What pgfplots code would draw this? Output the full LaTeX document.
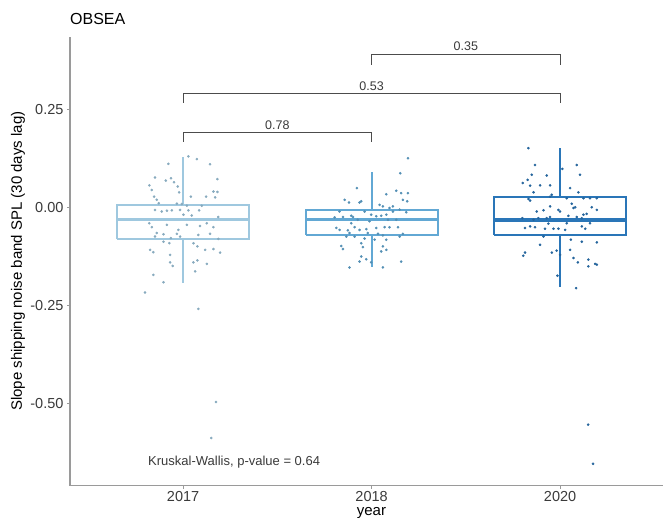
\documentclass[border=0pt]{standalone}
\usepackage{fontspec}
\setmainfont{Liberation Sans}
\usepackage{pgfplots}
\pgfplotsset{compat=1.18}
\definecolor{colA}{HTML}{9FC8DF}
\definecolor{colB}{HTML}{62A8D4}
\definecolor{colC}{HTML}{2A76B8}
\definecolor{axgray}{HTML}{9A9A9A}
\definecolor{txt}{HTML}{3A3A3A}
\begin{document}
\begin{tikzpicture}
\useasboundingbox (0pt,0pt) rectangle (663pt,518pt);
\begin{axis}[
  at={(70pt,32.3pt)}, anchor=south west,
  scale only axis, width=593pt, height=449pt,
  xmin=0.4, xmax=3.546, ymin=-0.711, ymax=0.437,
  axis x line*=bottom, axis y line*=left,
  axis line style={draw=axgray, line width=1.3pt, -},
  xtick={1,2,3}, xticklabels={2017,2018,2020},
  ytick={-0.5,-0.25,0,0.25}, yticklabels={-0.50,-0.25,0.00,0.25},
  tick style={draw=axgray, line width=0.8pt}, tick align=outside, major tick length=3pt,
  ticklabel style={font=\fontsize{14.5}{14.5}\selectfont, text=txt},
  xticklabel style={anchor=base, yshift=-13pt},
  yticklabel style={anchor=east},
  xlabel={year},
  xlabel style={at={(axis description cs:0.5084,0)}, anchor=base, yshift=-30pt, font=\fontsize{15}{15}\selectfont, text=black, inner sep=0pt},
  ylabel={Slope shipping noise band SPL (30 days lag)},
  ylabel style={at={(axis description cs:-0.0877,0.5)}, anchor=center, font=\fontsize{15}{15}\selectfont, text=black, inner sep=0pt},
  title={OBSEA},
  title style={at={(axis description cs:0,1)}, anchor=base west, yshift=6pt, inner sep=0pt, font=\fontsize{16}{16}\selectfont},
  clip=false,
  unbounded coords=jump,
  boxline/.style={line width=2pt, line join=miter, mark=none},
]
% boxes: outline, whiskers (jump at nan), then median
\addplot[boxline, draw=colA] coordinates {(0.65,-0.081)(1.35,-0.081)(1.35,0.007)(0.65,0.007)(0.65,-0.081)};
\addplot[boxline, draw=colA] coordinates {(1,0.007)(1,0.130)(1,nan)(1,-0.081)(1,-0.192)};
\addplot[boxline, draw=colA, line width=3pt] coordinates {(0.65,-0.030)(1.35,-0.030)};
\addplot[boxline, draw=colB] coordinates {(1.65,-0.071)(2.35,-0.071)(2.35,-0.006)(1.65,-0.006)(1.65,-0.071)};
\addplot[boxline, draw=colB] coordinates {(2,-0.006)(2,0.090)(2,nan)(2,-0.071)(2,-0.153)};
\addplot[boxline, draw=colB, line width=3pt] coordinates {(1.65,-0.030)(2.35,-0.030)};
\addplot[boxline, draw=colC] coordinates {(2.65,-0.070)(3.35,-0.070)(3.35,0.026)(2.65,0.026)(2.65,-0.070)};
\addplot[boxline, draw=colC] coordinates {(3,0.026)(3,0.152)(3,nan)(3,-0.070)(3,-0.202)};
\addplot[boxline, draw=colC, line width=3.5pt] coordinates {(2.65,-0.032)(3.35,-0.032)};
% jittered points 2017
\addplot[only marks, color=colA!85!black, mark=*, mark size=1.1pt, mark options={solid, fill=colA!85!black, draw=colA!85!black}] coordinates {
(1.028,0.131)(1.073,0.124)(0.922,0.112)(1.143,0.111)(1.182,0.073)(0.851,0.077)(0.908,0.069)(0.936,0.075)(0.952,0.065)(0.821,0.057)(0.834,0.045)(0.972,0.054)(0.979,0.039)(1.161,0.041)(1.182,0.040)(0.846,0.028)(0.860,0.020)(1.041,0.028)(1.122,0.028)(1.170,0.026)(0.871,0.011)(0.967,0.010)(0.993,0.009)(1.099,0.005)(1.020,0.005)(0.851,-0.006)(0.887,-0.010)(0.914,-0.008)(0.940,-0.007)(0.984,-0.006)(1.028,-0.007)(1.085,-0.007)(1.002,-0.018)(1.046,-0.020)(1.187,-0.024)(0.821,-0.040)(0.834,-0.050)(0.914,-0.044)(0.975,-0.057)(1.020,-0.044)(1.090,-0.047)(1.126,-0.040)(1.161,-0.050)(0.860,-0.065)(0.896,-0.068)(0.967,-0.067)(1.081,-0.070)(1.143,-0.067)(0.851,-0.074)(0.935,-0.078)(0.984,-0.074)(1.187,-0.080)(0.896,-0.087)(0.927,-0.091)(1.055,-0.091)(1.076,-0.099)(0.825,-0.108)(0.842,-0.114)(1.117,-0.108)(1.161,-0.106)(1.196,-0.115)(0.931,-0.121)(1.076,-0.135)(1.055,-0.140)(0.931,-0.140)(0.945,-0.149)(1.126,-0.144)(0.842,-0.172)(0.896,-0.191)(1.064,-0.163)(0.798,-0.217)(1.081,-0.259)(1.175,-0.497)(1.149,-0.589)
};
% jittered points 2018
\addplot[only marks, color=colB!85!black, mark=*, mark size=1.1pt, mark options={solid, fill=colB!85!black, draw=colB!85!black}] coordinates {
(2.193,0.126)(2.152,0.088)(1.922,0.050)(2.078,0.034)(2.131,0.043)(2.157,0.037)(2.193,0.037)(2.166,0.020)(2.189,0.016)(1.857,0.020)(1.880,0.013)(1.936,0.013)(1.945,0.016)(2.042,0.007)(2.060,0.003)(2.095,-0.001)(2.113,0.003)(2.149,-0.005)(2.184,-0.012)(1.963,-0.010)(1.998,-0.018)(2.025,-0.022)(2.051,-0.021)(2.078,-0.018)(1.848,-0.024)(1.901,-0.024)(1.804,-0.025)(1.927,-0.031)(2.131,-0.031)(1.892,-0.040)(1.910,-0.050)(1.813,-0.052)(1.830,-0.057)(1.936,-0.057)(2.025,-0.052)(2.069,-0.050)(2.095,-0.050)(2.140,-0.050)(1.874,-0.058)(1.883,-0.065)(1.980,-0.065)(2.034,-0.067)(2.060,-0.071)(1.910,-0.074)(1.963,-0.079)(2.078,-0.082)(2.166,-0.067)(1.945,-0.091)(1.954,-0.101)(1.839,-0.098)(1.848,-0.106)(2.060,-0.099)(2.078,-0.108)(2.051,-0.112)(1.945,-0.125)(1.972,-0.132)(1.936,-0.138)(1.998,-0.140)(2.157,-0.138)(1.883,-0.153)(2.060,-0.153)(1.892,-0.021)(1.989,-0.035)(2.087,-0.031)(2.149,-0.074)(1.866,-0.074)(2.016,-0.082)(2.113,-0.010)(1.830,-0.010)(1.972,-0.055)
};
% jittered points 2020
\addplot[only marks, color=colC!85!black, mark=*, mark size=1.1pt, mark options={solid, fill=colC!85!black, draw=colC!85!black}] coordinates {
(2.832,0.152)(2.867,0.109)(3.088,0.109)(3.106,0.084)(2.850,0.084)(2.929,0.082)(2.828,0.071)(2.802,0.063)(2.841,0.056)(2.894,0.057)(2.947,0.057)(3.012,0.099)(3.053,0.050)(3.097,0.039)(2.859,0.039)(2.956,0.033)(2.832,0.022)(2.841,0.018)(2.947,0.028)(3.035,0.024)(3.124,0.024)(3.159,0.024)(3.195,0.024)(3.062,0.010)(3.080,0.001)(2.876,-0.010)(2.912,-0.007)(2.991,-0.006)(3.000,-0.010)(3.071,-0.001)(3.168,0.001)(3.195,-0.006)(2.885,-0.027)(2.929,-0.027)(2.947,-0.024)(3.044,-0.021)(3.088,-0.024)(3.124,-0.018)(3.141,-0.016)(3.115,-0.027)(2.814,-0.052)(2.841,-0.048)(2.867,-0.050)(2.920,-0.054)(2.965,-0.054)(2.991,-0.054)(3.027,-0.057)(3.133,-0.054)(2.938,-0.041)(2.894,-0.095)(2.956,-0.115)(2.982,-0.110)(3.000,-0.121)(3.057,-0.082)(3.115,-0.087)(3.195,-0.089)(2.814,-0.115)(2.805,-0.123)(3.071,-0.129)(3.094,-0.140)(3.150,-0.133)(3.150,-0.150)(3.186,-0.144)(3.195,-0.146)(2.986,-0.174)(3.085,-0.206)(2.859,-0.031)(3.035,-0.040)(3.159,-0.040)(2.912,-0.074)(3.053,-0.108)(2.947,0.003)(2.800,-0.027)(3.115,-0.048)(3.149,-0.555)(3.175,-0.655)
};
% comparison brackets
\addplot[draw=black!70, line width=1pt] coordinates {(1,0.169) (1,0.192) (2,0.192) (2,0.169)};
\addplot[draw=black!70, line width=1pt] coordinates {(1,0.268) (1,0.291) (3,0.291) (3,0.268)};
\addplot[draw=black!70, line width=1pt] coordinates {(2,0.365) (2,0.392) (3,0.392) (3,0.365)};
\node[anchor=base, yshift=3.5pt, inner sep=0pt, font=\fontsize{12.5}{12.5}\selectfont, text=txt] at (axis cs:1.5,0.192) {0.78};
\node[anchor=base, yshift=3.5pt, inner sep=0pt, font=\fontsize{12.5}{12.5}\selectfont, text=txt] at (axis cs:2,0.291) {0.53};
\node[anchor=base, yshift=3.5pt, inner sep=0pt, font=\fontsize{12.5}{12.5}\selectfont, text=txt] at (axis cs:2.5,0.392) {0.35};
\node[anchor=base west, inner sep=0pt, font=\fontsize{13}{13}\selectfont, text=txt] at (axis cs:0.814,-0.6585) {Kruskal-Wallis, p-value = 0.64};
\end{axis}
\end{tikzpicture}
\end{document}
